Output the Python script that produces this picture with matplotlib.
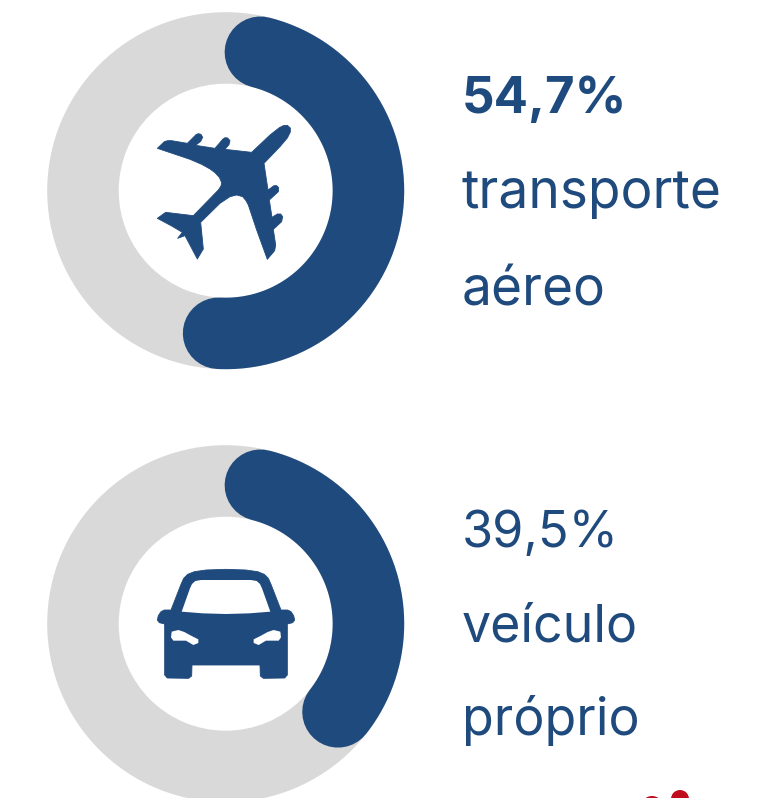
import numpy as np
from matplotlib import pyplot as plt
from matplotlib.patches import Wedge, Polygon, Circle

plt.rcParams['font.family'] = ['Inter', 'DejaVu Sans']

shares = [54.7, 39.5]
percent_labels = ['54,7%', '39,5%']
line1_labels = ['transporte', 'veículo']
line2_labels = ['aéreo', 'próprio']

BLUE = '#1f4a7d'
GREY = '#d9d9d9'
RED = '#c00d1e'
W, H = 761, 798

fig = plt.figure(figsize=(W / 100, H / 100), dpi=100)
ax = fig.add_axes([0, 0, 1, 1])
ax.set_xlim(0, W)
ax.set_ylim(H, 0)
ax.axis('off')

# ring geometry in pixels
R_OUT = 178.5
THICK = 71.5
R_MID = R_OUT - THICK / 2
centers = [(225.7, 190.7), (225.7, 623.7)]
text_y = [(113, 208, 305), (547, 642, 735)]
# Inter runs a bit wider than the original font, so each line gets its own size
text_size = [(36.7, 38.3, 38.3), (36.3, 37.4, 37.4)]

plane = np.array([
    (82, 145), (103, 125), (113, 122), (125, 122), (172, 130), (198, 104), (205, 101), (213, 103), (218, 112),
    (212, 124), (197, 136), (255, 145), (278, 118), (285, 113), (293, 114), (300, 122), (297, 134), (285, 148),
    (365, 157), (420, 105), (448, 83), (460, 77), (472, 76), (481, 84), (481, 96), (472, 114), (450, 140),
    (402, 190), (414, 270), (432, 257), (440, 257), (446, 263), (445, 275), (418, 300), (426, 352), (442, 342),
    (452, 342), (458, 350), (455, 365), (430, 388), (437, 435), (434, 452), (412, 478), (380, 390), (355, 315),
    (348, 302), (338, 290), (320, 285), (300, 290), (270, 310), (212, 367), (220, 447), (202, 477), (165, 407),
    (143, 415), (157, 397), (125, 378), (82, 355), (107, 337), (190, 347), (265, 270), (273, 258), (275, 248),
    (268, 232), (255, 218), (240, 207), (215, 193), (180, 178),
]) / 3 + (130, 100)

# car half outlines as (offset from middle, y) in a 3x crop whose corner is (140, 550)
car_half = [(0, 58), (60, 60), (95, 65), (115, 73), (127, 85), (135, 103), (165, 180), (185, 180), (195, 185),
            (203, 197), (206, 210), (200, 218), (184, 222), (184, 375), (176, 384), (112, 385), (103, 378), (102, 345)]
glass_half = [(0, 90), (75, 90), (92, 93), (102, 102), (108, 115), (133, 185), (70, 190), (0, 192)]
lamp_right = [(163, 245), (143, 240), (125, 246), (103, 258), (83, 268), (83, 279), (98, 285), (120, 272), (158, 272),
              (165, 262)]


def mirrored(half):
    pts = np.array(half, dtype=float)
    other = pts[::-1] * (-1, 1)
    return np.vstack([pts, other])


def car_xy(pts, cx):
    pts = np.array(pts, dtype=float)
    return np.column_stack([cx + pts[:, 0] / 3, 550 + pts[:, 1] / 3])


for i, share in enumerate(shares):
    cx, cy = centers[i]
    ax.add_patch(Wedge((cx, cy), R_OUT, 0, 360, width=THICK, fc=GREY, ec='none'))

    # the round caps are part of the share, so the centre line stops short of it on both ends
    cap = np.degrees(np.arctan((THICK / 2) / R_MID))
    theta = np.radians(np.linspace(cap, share * 3.6 - cap, 200))
    ax.plot(cx + R_MID * np.sin(theta), cy - R_MID * np.cos(theta), color=BLUE,
            lw=THICK * 0.72, solid_capstyle='round')

    ax.text(461.5, text_y[i][0], percent_labels[i], color=BLUE, fontsize=text_size[i][0], va='baseline',
            fontweight='bold' if i == 0 else 'normal')
    ax.text(461.5, text_y[i][1], line1_labels[i], color=BLUE, fontsize=text_size[i][1], va='baseline')
    ax.text(461.5, text_y[i][2], line2_labels[i], color=BLUE, fontsize=text_size[i][2], va='baseline')

ax.add_patch(Polygon(plane, closed=True, fc=BLUE, ec=BLUE, lw=0.6, joinstyle='round'))

lamp_left = np.array(lamp_right) * (-1, 1)
ax.add_patch(Polygon(car_xy(mirrored(car_half), 226), closed=True, fc=BLUE, ec=BLUE, lw=0.6, joinstyle='round'))
ax.add_patch(Polygon(car_xy(mirrored(glass_half), 226), closed=True, fc='white', ec='none'))
ax.add_patch(Polygon(car_xy(lamp_left, 226), closed=True, fc='white', ec='none'))
ax.add_patch(Polygon(car_xy(lamp_right, 226), closed=True, fc='white', ec='none'))

# top of the next icon, cut off by the lower edge
ax.add_patch(Circle((652, 807), 11, fc=RED, ec='none'))
ax.add_patch(Circle((680, 799), 9, fc=RED, ec='none'))

fig.savefig('out.png', dpi=100)
